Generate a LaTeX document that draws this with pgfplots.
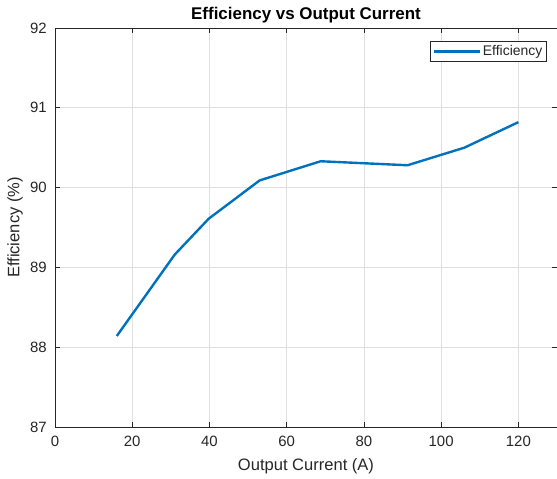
\documentclass[border=0pt]{standalone}
\usepackage{pgfplots}
\pgfplotsset{compat=1.18}
\usepackage{fontspec}
\setmainfont{Liberation Sans}
\usetikzlibrary{calc}
\definecolor{mblue}{RGB}{0,114,189}
\definecolor{axgray}{RGB}{38,38,38}
\definecolor{gridgray}{RGB}{223,223,223}
\begin{document}
\begin{tikzpicture}
\begin{axis}[
    name=ax,
    scale only axis,
    width=502bp, height=399bp,
    xmin=0, xmax=130,
    ymin=87, ymax=92,
    xtick={0,20,...,120},
    ytick={87,88,...,92},
    grid=major,
    major grid style={gridgray, line width=0.7pt},
    axis line style={axgray, line width=0.7pt},
    tick style={axgray, line width=0.7pt},
    tick align=inside,
    major tick length=5bp,
    ticklabel style={font=\fontsize{15}{17}\selectfont, text=axgray, inner sep=0pt},
    xticklabel style={anchor=north, yshift=-9bp},
    yticklabel style={anchor=east, xshift=-8bp},
    /pgf/number format/assume math mode=true,
    xlabel={Output Current (A)},
    ylabel={Efficiency (\%)},
    label style={font=\fontsize{16.6}{18}\selectfont, text=axgray},
    xlabel style={at={(rel axis cs:0.5,0)}, anchor=center, yshift=-39bp},
    ylabel style={at={(rel axis cs:0,0.5)}, anchor=center, yshift=40bp},
    title={\textbf{Efficiency vs Output Current}},
    title style={font=\fontsize{17}{19}\selectfont, at={(rel axis cs:0.5,1)}, anchor=center, yshift=7bp},
    legend style={at={(rel axis cs:1,1)}, anchor=north east, xshift=-10bp, yshift=-13bp,
      font=\fontsize{14}{16}\selectfont, text=axgray,
      draw=axgray, line width=0.7pt, inner sep=2.3bp},
    legend cell align=left,
    legend image code/.code={\draw[#1, line width=2.4pt] (0bp,0bp) -- (46bp,0bp);},
]
\addplot[mblue, line width=2.4pt] coordinates {
  (16,88.14) (31,89.16) (39.8,89.61) (53,90.09) (68.8,90.33)
  (91.3,90.28) (106,90.50) (120,90.82)
};
\addlegendentry{Efficiency}
\end{axis}
\pgfresetboundingbox
\path ($(ax.south west)+(-55bp,-52bp)$) rectangle ($(ax.north east)+(0bp,28bp)$);
\end{tikzpicture}
\end{document}
